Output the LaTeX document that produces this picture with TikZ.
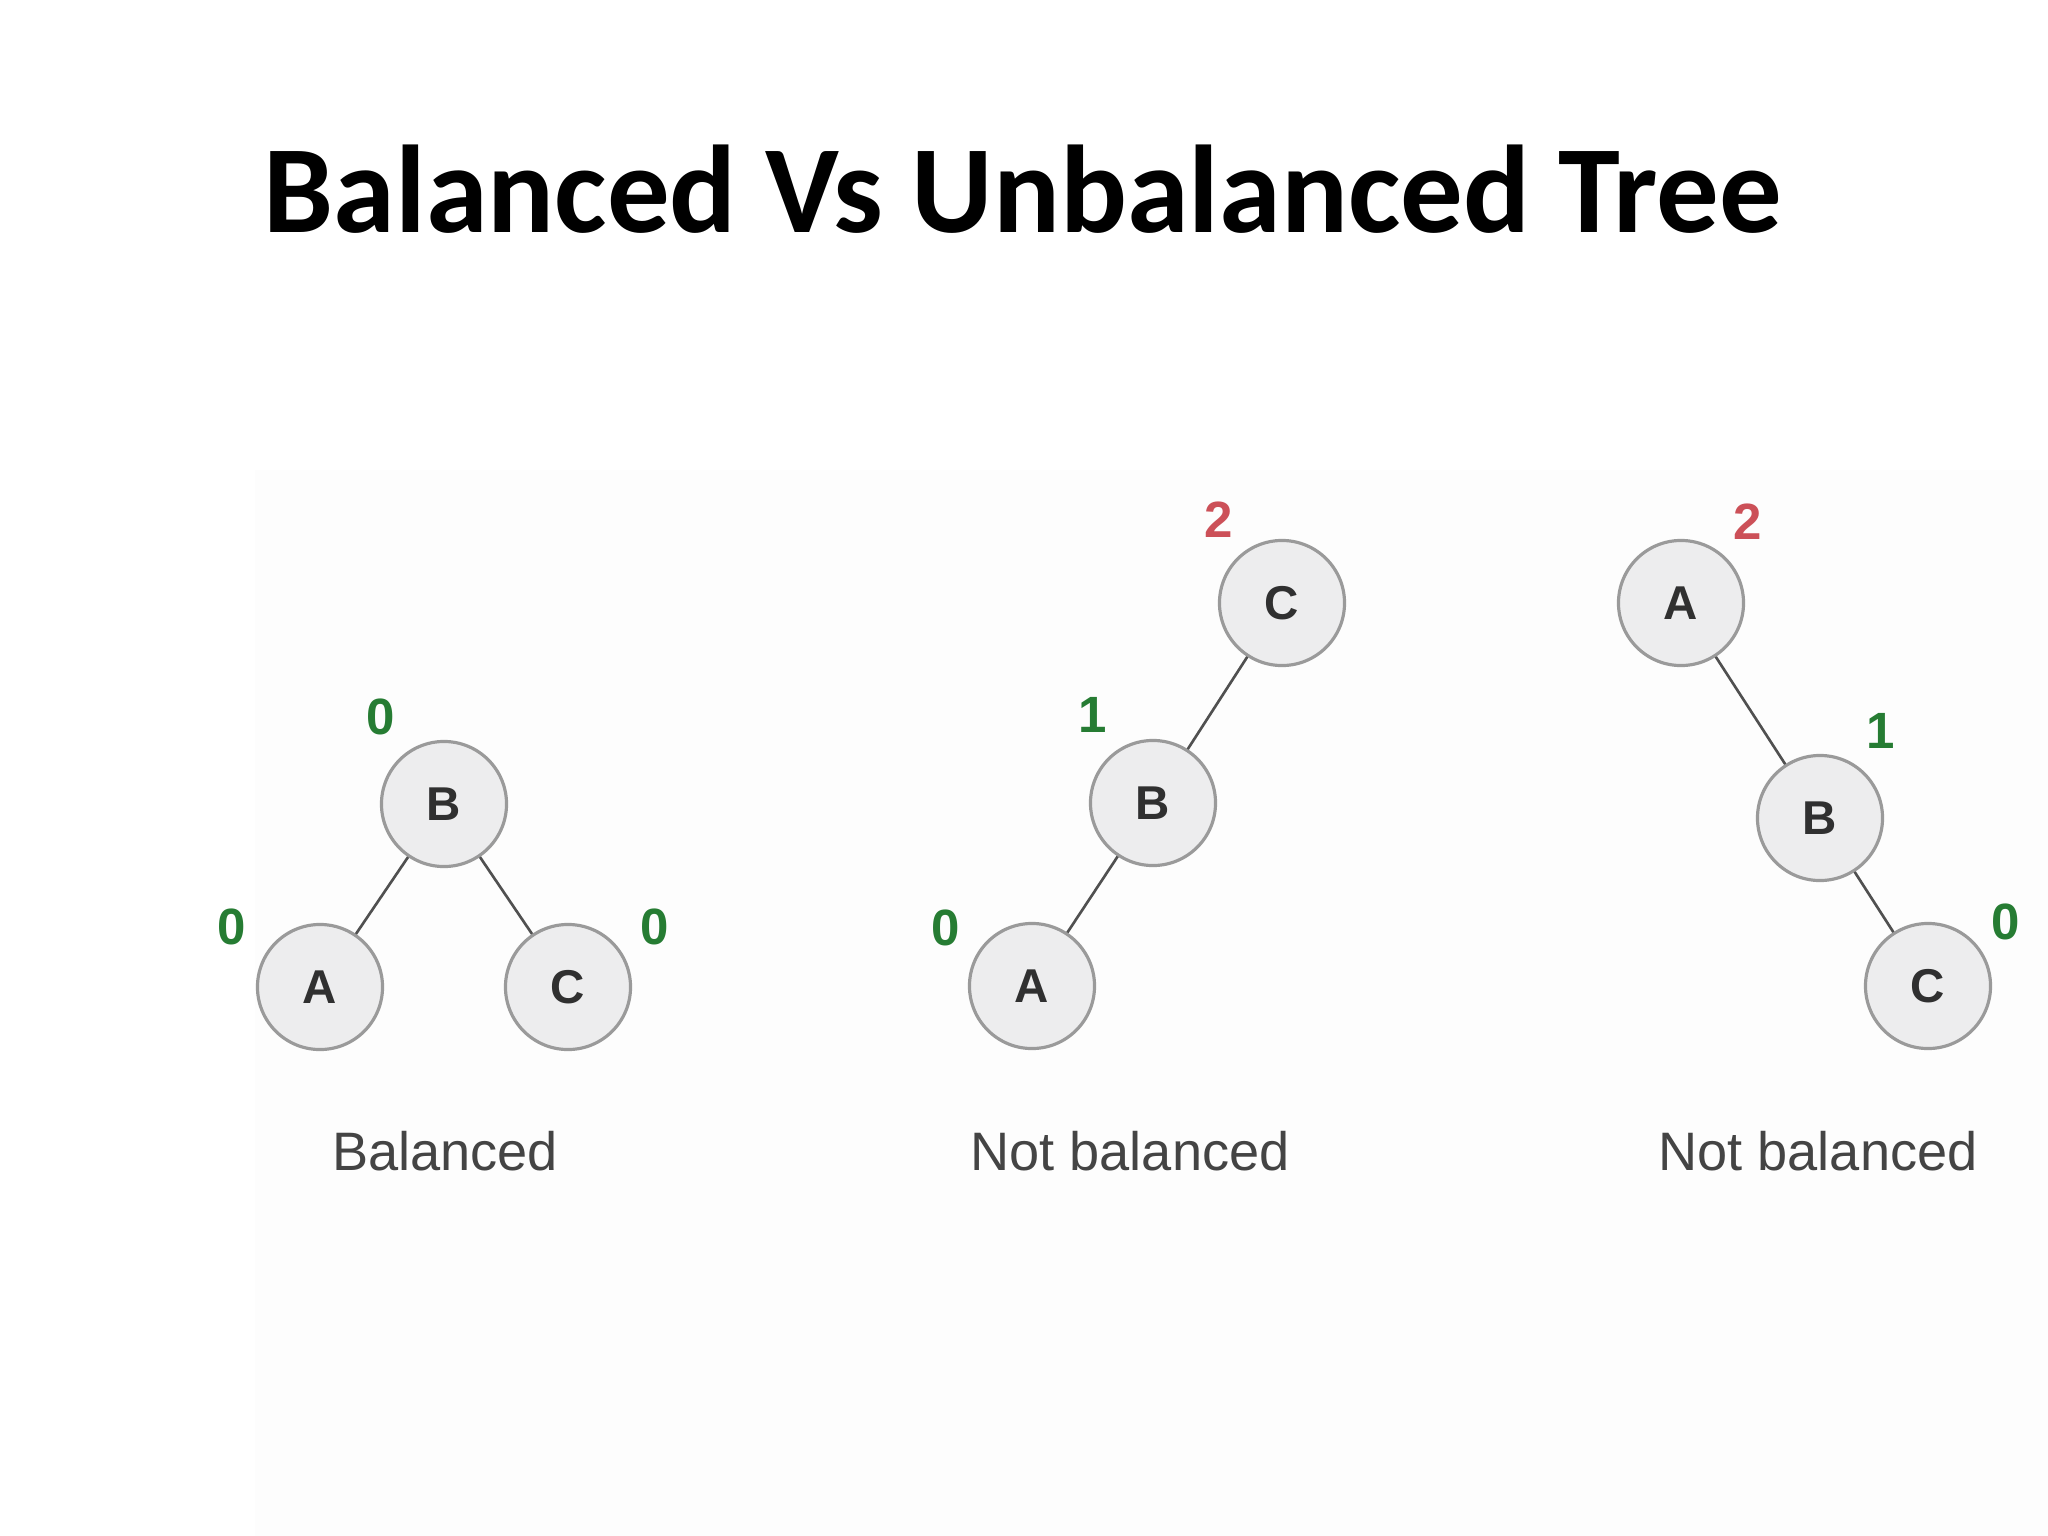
\documentclass[tikz,border=0pt]{standalone}
\usepackage{fontspec}
\setmainfont{Liberation Sans}
\newfontfamily\titlefont{Carlito}
\definecolor{nodefill}{HTML}{EDEDEE}
\definecolor{nodeborder}{HTML}{9A9A9A}
\definecolor{nodetext}{HTML}{303030}
\definecolor{edgecol}{HTML}{505050}
\definecolor{balgreen}{HTML}{267C33}
\definecolor{balred}{HTML}{CC5058}
\definecolor{captext}{HTML}{444444}
\definecolor{panelbg}{HTML}{FDFDFD}
\tikzset{
  treenode/.style={circle, minimum size=1.25cm, inner sep=0pt, draw=nodeborder, line width=0.9pt,
    fill=nodefill, text=nodetext, font=\bfseries\fontsize{13.5}{13.5}\selectfont},
  edge/.style={draw=edgecol, line width=0.75pt},
  balnum/.style={inner sep=0pt, font=\bfseries\fontsize{14.5}{14.5}\selectfont},
  caption/.style={inner sep=0pt, anchor=base, text=captext, font=\fontsize{15.4}{15.4}\selectfont},
}
\begin{document}
\begin{tikzpicture}[x=0.01cm, y=-0.01cm]
\useasboundingbox (0,0) rectangle (2048,1536);
\fill[white] (0,0) rectangle (2048,1536);
\fill[panelbg] (255,470) rectangle (2048,1536);

% title
\node[inner sep=0pt, anchor=base, font=\titlefont\bfseries\fontsize{35.5}{35.5}\selectfont] (title) at (1023,232) {Balanced Vs Unbalanced Tree};

% tree 1: balanced
\node[treenode] (b1) at (444,804) {B};
\node[treenode] (a1) at (320,987) {A};
\node[treenode] (c1) at (568,987) {C};
\draw[edge] (b1) -- (a1);
\draw[edge] (b1) -- (c1);
\node[balnum, text=balgreen] (hb1) at (381,717) {0};
\node[balnum, text=balgreen] (ha1) at (232,927) {0};
\node[balnum, text=balgreen] (hc1) at (655,927) {0};
\node[caption] (cap1) at (445,1170) {Balanced};

% tree 2: left-leaning
\node[treenode] (c2) at (1282,603) {C};
\node[treenode] (b2) at (1153,803) {B};
\node[treenode] (a2) at (1032,986) {A};
\draw[edge] (c2) -- (b2);
\draw[edge] (b2) -- (a2);
\node[balnum, text=balred] (hc2) at (1219,520) {2};
\node[balnum, text=balgreen] (hb2) at (1093,715) {1};
\node[balnum, text=balgreen] (ha2) at (946,928) {0};
\node[caption] (cap2) at (1130,1170) {Not balanced};

% tree 3: right-leaning
\node[treenode] (a3) at (1681,603) {A};
\node[treenode] (b3) at (1820,818) {B};
\node[treenode] (c3) at (1928,986) {C};
\draw[edge] (a3) -- (b3);
\draw[edge] (b3) -- (c3);
\node[balnum, text=balred] (ha3) at (1748,522) {2};
\node[balnum, text=balgreen] (hb3) at (1881,731) {1};
\node[balnum, text=balgreen] (hc3) at (2006,922) {0};
\node[caption] (cap3) at (1818,1170) {Not balanced};
\end{tikzpicture}
\end{document}
